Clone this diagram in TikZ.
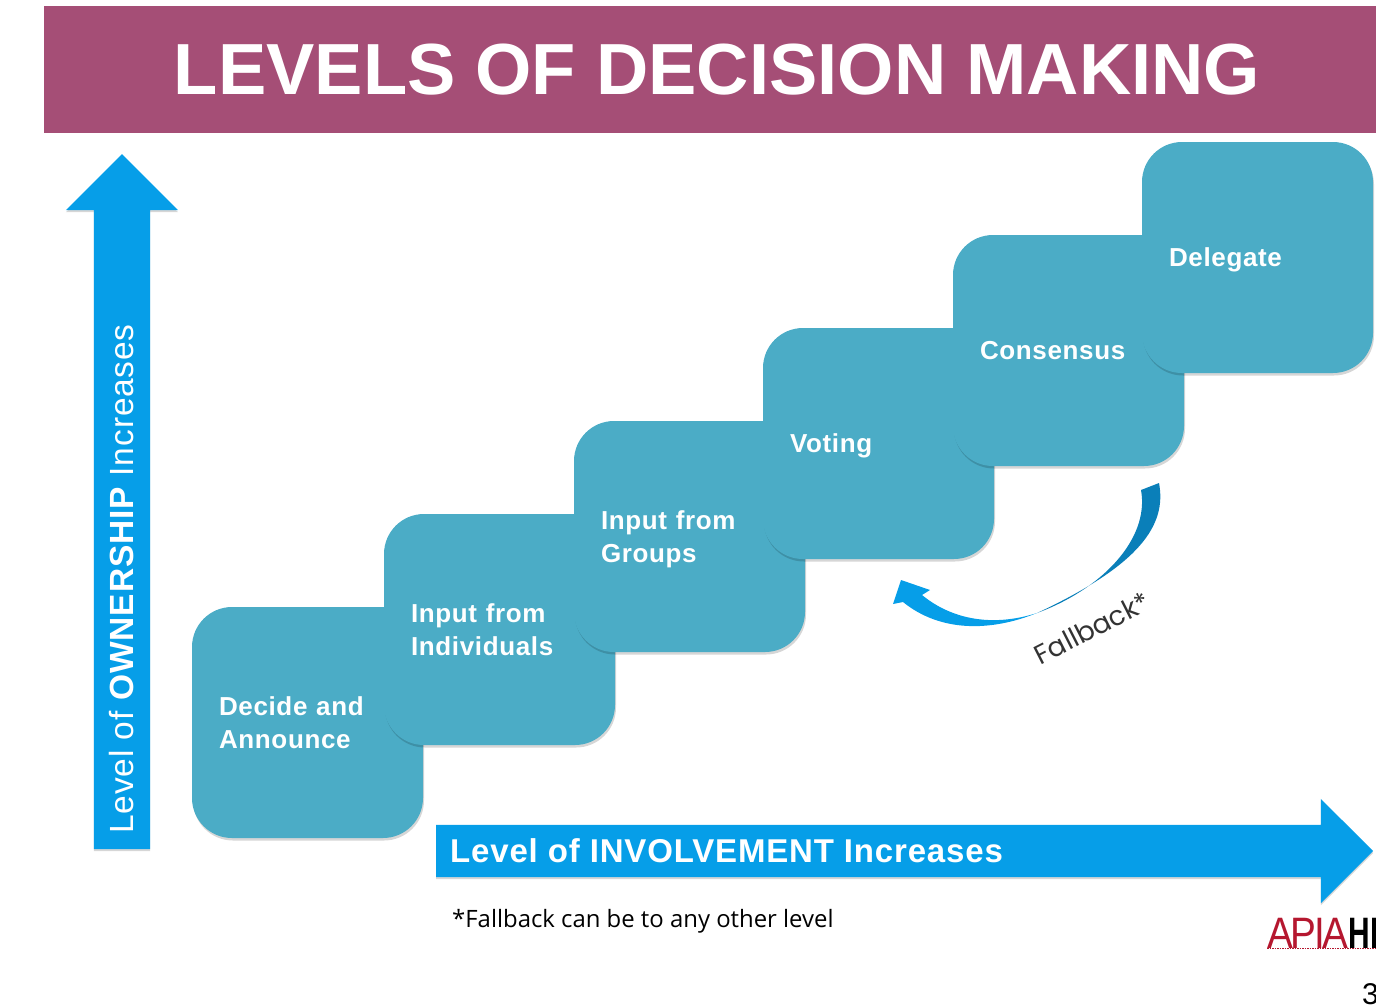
\documentclass[tikz,border=0pt]{standalone}
\usepackage{fontspec}
\setmainfont{Liberation Sans}
\newfontfamily\fallbackfont{Poppins}
\newfontfamily\notefont{Open Sans}
\newfontfamily\spacedfont[LetterSpace=2.5]{Liberation Sans}
\usetikzlibrary{positioning,shapes.arrows,shadows}

\definecolor{titlecolor}{HTML}{A54E76}
\definecolor{stepcolor}{HTML}{4BACC6}
\definecolor{arrowcolor}{HTML}{069EE8}
\definecolor{darkarrow}{HTML}{0A7FB9}
\definecolor{logored}{HTML}{B5172F}

\begin{document}
\begin{tikzpicture}[x=1pt,y=-1pt,
					step node/.style={rectangle,fill=stepcolor,rounded corners=40pt,
						minimum width=231pt,minimum height=231pt,text width=177pt,
						inner xsep=27pt,inner ysep=0pt,outer sep=0pt,align=left,text=white,
						font=\spacedfont\fontsize{26}{33}\selectfont\bfseries,
						drop shadow={shadow xshift=1pt,shadow yshift=-2.5pt,opacity=.16,fill=black}},
					level arrow/.style={single arrow,fill=arrowcolor,single arrow head indent=0pt,
						outer sep=0pt,anchor=tail,
						drop shadow={shadow xshift=0pt,shadow yshift=-2pt,opacity=.16,fill=black}},
					level text/.style={text=white,inner sep=0pt}]

  \useasboundingbox (0,0) rectangle (1376,1005);

  % title bar
  \node[rectangle,fill=titlecolor,minimum width=1332pt,minimum height=127pt,
		inner sep=0pt,outer sep=0pt,anchor=north west] (title) at (44,6) {};
  \node[text=white,inner sep=0pt,font=\fontsize{72.4}{74}\selectfont\bfseries] (titletext) at (717,70)
	{LEVELS OF DECISION MAKING};

  % the steps, lowest first
  \node[step node] (decide) at (307.5,722.5) {Decide and\\Announce};
  \node[step node,xshift=192pt,yshift=93pt] (individuals) at (decide) {Input from\\Individuals};
  \node[step node,xshift=190pt,yshift=93pt] (groups) at (individuals) {Input from\\Groups\vspace*{-6pt}};
  \node[step node,xshift=189pt,yshift=93pt] (voting) at (groups) {Voting\vspace*{-10pt}};
  \node[step node,xshift=190pt,yshift=93pt] (consensus) at (voting) {Consensus};
  \node[step node,xshift=189pt,yshift=93pt] (delegate) at (consensus) {Delegate\vspace*{-8pt}};

  % the two axes
  \node[level arrow,inner sep=28pt,shape border rotate=90,minimum height=695pt,minimum width=112pt,
		single arrow head extend=28pt] (ownership) at (122,849) {};
  \node[level text,rotate=90,anchor=west,font=\spacedfont\fontsize{33.5}{34}\selectfont] (ownershiptext) at (122,834)
	{Level of \textbf{OWNERSHIP} Increases};
  \node[level arrow,inner sep=26pt,minimum height=937pt,minimum width=104pt,
		single arrow head extend=26pt] (involvement) at (436,851) {};
  \node[level text,anchor=west,font=\spacedfont\fontsize{33}{33}\selectfont\bfseries] (involvementtext) at (450,851)
	{Level of INVOLVEMENT Increases};

  % fallback arrow
  \coordinate (fbstart) at (1159,483);
  \coordinate (fbmid) at (1037,613);
  \fill[darkarrow] (fbstart) .. controls (1167,525) and (1140,565) .. (fbmid)
	.. controls (1100,590) and (1150,540) .. (1141,490) -- cycle;
  \fill[arrowcolor] (fbmid) .. controls (990,632) and (940,632) .. (903,602)
	-- (893,604) -- (901,580) -- (930,590) -- (922,595)
	.. controls (950,618) and (990,628) .. (fbmid) -- cycle;
  \node[rotate=27,inner sep=0pt,text=black!80,font=\fallbackfont\fontsize{27}{27}\selectfont] (fallback) at (1092,628) {Fallback*};

  % footnote, logo and page number
  \node[anchor=west,inner sep=0pt,font=\notefont\fontsize{23.9}{24}\selectfont] (note) at (452,921)
	{*Fallback can be to any other level};
  \node[anchor=west,inner sep=0pt,xscale=.88,text=logored,font=\fontsize{44}{44}\selectfont] (apia) at (1267,933)
	{\addfontfeature{LetterSpace=-6}APIA};
  \node[right=0pt of apia,inner sep=0pt,xscale=.68,font=\fontsize{44}{44}\selectfont\bfseries] (hi) {HI};
  \draw[logored,densely dotted,line width=1.5pt] (apia.south west) -- (hi.south east);
  \node[anchor=west,inner sep=0pt,font=\fontsize{30}{30}\selectfont] (page) at (1362,994) {3};
\end{tikzpicture}
\end{document}
